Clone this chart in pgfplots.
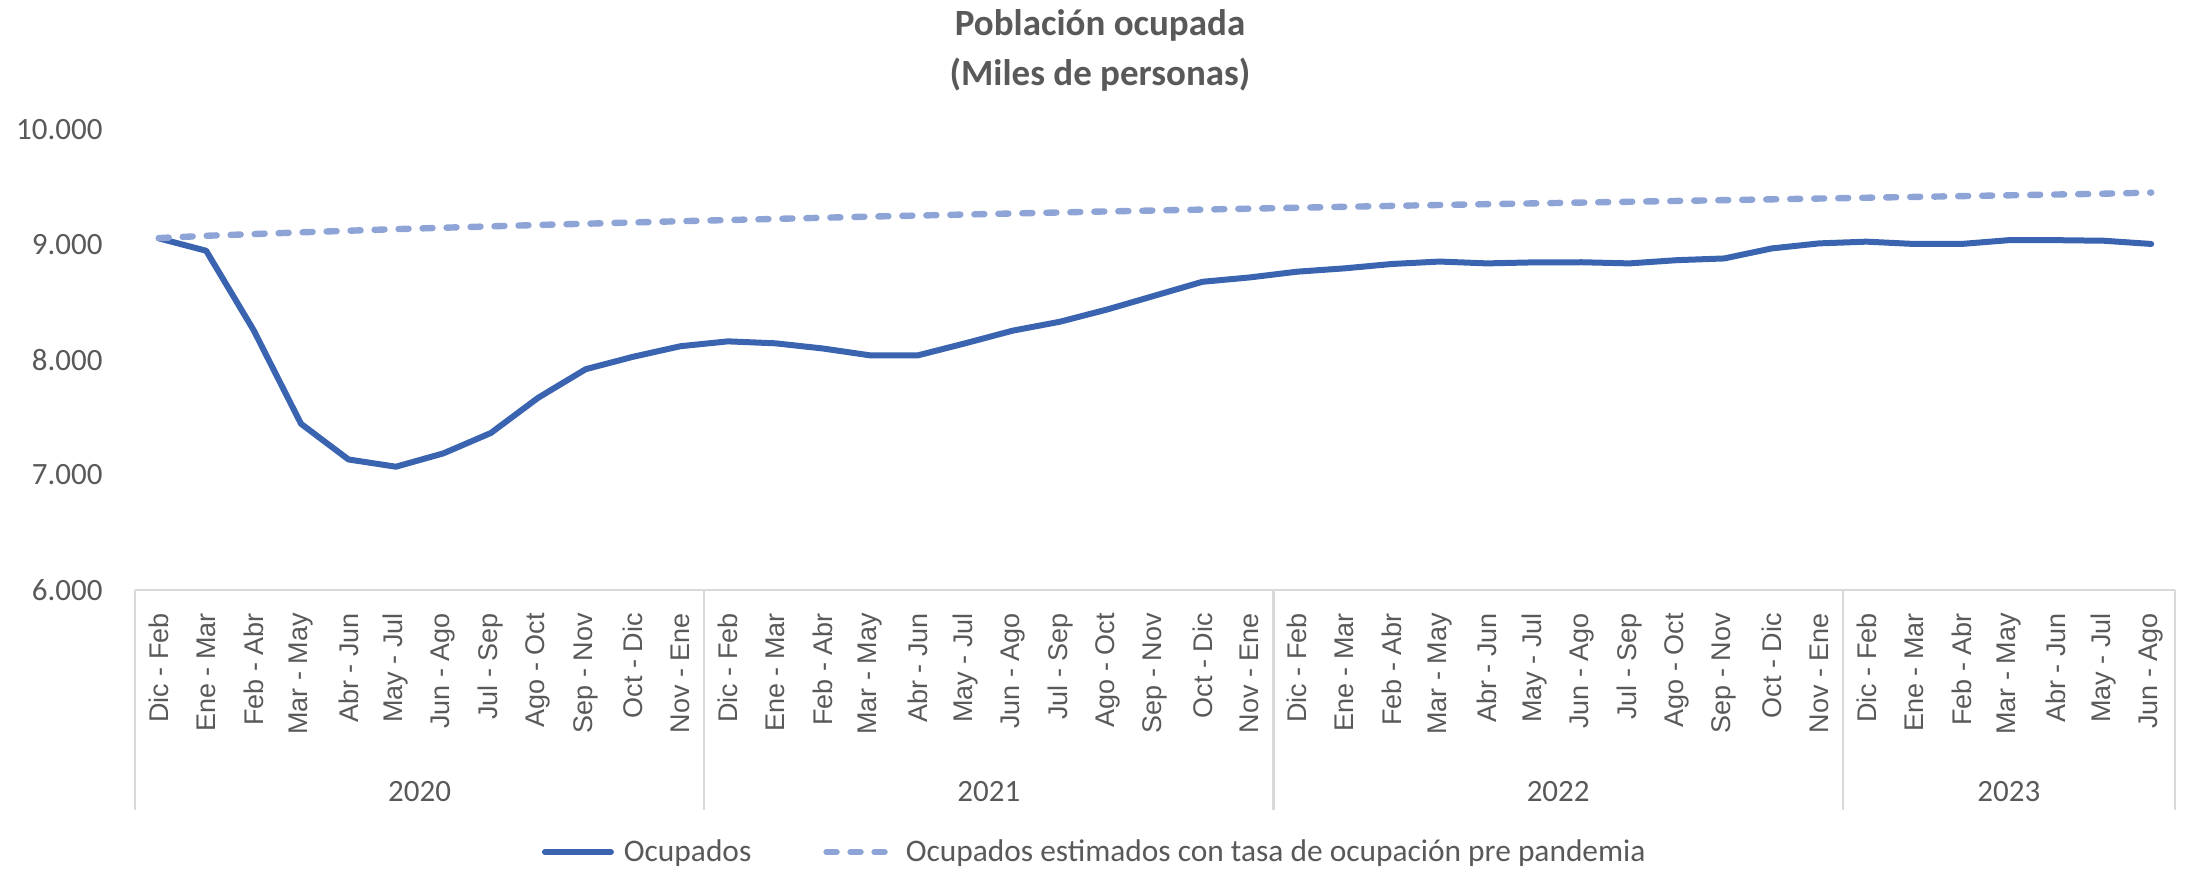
\documentclass[border=0pt]{standalone}
\usepackage{fontspec}
\setmainfont{Carlito}
\newfontfamily\arialf{Liberation Sans}
\usepackage{pgfplots}
\pgfplotsset{compat=1.18}
\definecolor{txtgray}{RGB}{89,89,89}
\definecolor{sepgray}{RGB}{217,217,217}
\definecolor{ocup}{RGB}{59,100,176}
\definecolor{estim}{RGB}{143,164,214}
\begin{document}
\begin{tikzpicture}
\useasboundingbox (0,0) rectangle (1095pt,436pt);
\node[text=txtgray, font=\bfseries\fontsize{18.5}{25}\selectfont, align=center] at (550pt,411pt) {Población ocupada\\(Miles de personas)};
\begin{axis}[
  at={(67.5pt,141pt)}, anchor=south west,
  scale only axis, width=1020pt, height=230pt,
  xmin=-0.5, xmax=42.5, ymin=6000, ymax=10000,
  clip=false,
  scaled y ticks=false,
  axis line style={draw=none},
  major tick length=0pt,
  xtick={0,...,42},
  xticklabels={Dic - Feb,Ene - Mar,Feb - Abr,Mar - May,Abr - Jun,May - Jul,Jun - Ago,Jul - Sep,Ago - Oct,Sep - Nov,Oct - Dic,Nov - Ene,
               Dic - Feb,Ene - Mar,Feb - Abr,Mar - May,Abr - Jun,May - Jul,Jun - Ago,Jul - Sep,Ago - Oct,Sep - Nov,Oct - Dic,Nov - Ene,
               Dic - Feb,Ene - Mar,Feb - Abr,Mar - May,Abr - Jun,May - Jul,Jun - Ago,Jul - Sep,Ago - Oct,Sep - Nov,Oct - Dic,Nov - Ene,
               Dic - Feb,Ene - Mar,Feb - Abr,Mar - May,Abr - Jun,May - Jul,Jun - Ago},
  ytick={6000,7000,8000,9000,10000},
  yticklabels={6.000,7.000,8.000,9.000,10.000},
  xticklabel style={rotate=90, anchor=east, inner sep=0pt, font=\arialf\fontsize{13.5}{16}\selectfont, text=txtgray},
  xticklabel shift=11.5pt,
  yticklabel style={anchor=east, inner sep=0pt, font=\fontsize{15.5}{18}\selectfont, text=txtgray},
  yticklabel shift=16pt,
  legend style={at={(0.471,-0.5696)}, anchor=center, draw=none, fill=none, legend columns=2,
    font=\fontsize{15.7}{18}\selectfont, text=txtgray,
    /tikz/every even column/.append style={column sep=34pt}},
  legend cell align=left,
  legend image code/.code={\draw[#1] (0pt,0pt) -- (33pt,0pt);},
]
\addplot[ocup, line width=3pt, line join=round, line cap=round] coordinates {
(0,9058) (1,8950) (2,8260) (3,7445) (4,7135) (5,7072) (6,7188) (7,7365) (8,7672) (9,7920) (10,8028) (11,8120)
(12,8162) (13,8145) (14,8100) (15,8040) (16,8040) (17,8145) (18,8255) (19,8333) (20,8440) (21,8560) (22,8680) (23,8718)
(24,8768) (25,8797) (26,8835) (27,8856) (28,8840) (29,8849) (30,8850) (31,8840) (32,8868) (33,8883) (34,8970) (35,9014)
(36,9029) (37,9009) (38,9009) (39,9042) (40,9042) (41,9037) (42,9009)};
\addlegendentry{\hspace{3pt}Ocupados}
\addplot[estim, line width=3.2pt, line cap=round, dash pattern=on 5pt off 7pt] coordinates {
(0,9060) (1,9080) (2,9095) (3,9110) (4,9124) (5,9138) (6,9150) (7,9162) (8,9174) (9,9185) (10,9196) (11,9207)
(12,9217) (13,9227) (14,9237) (15,9247) (16,9256) (17,9265) (18,9274) (19,9283) (20,9292) (21,9300) (22,9308) (23,9316)
(24,9324) (25,9332) (26,9340) (27,9348) (28,9355) (29,9362) (30,9369) (31,9376) (32,9383) (33,9390) (34,9397) (35,9404)
(36,9411) (37,9418) (38,9425) (39,9432) (40,9439) (41,9446) (42,9456)};
\addlegendentry{\hspace{3pt}Ocupados estimados con tasa de ocupación pre pandemia}
\draw[sepgray, line width=1.2pt] (axis cs:-0.5,6000) -- (axis cs:42.5,6000);
\pgfplotsinvokeforeach{-0.5,11.5,23.5,35.5,42.5}{
  \draw[sepgray, line width=1.2pt] (axis cs:#1,6000) -- ([yshift=-110pt]axis cs:#1,6000);
}
\node[text=txtgray, font=\fontsize{15.5}{18}\selectfont] at ([yshift=-101pt]axis cs:5.5,6000) {2020};
\node[text=txtgray, font=\fontsize{15.5}{18}\selectfont] at ([yshift=-101pt]axis cs:17.5,6000) {2021};
\node[text=txtgray, font=\fontsize{15.5}{18}\selectfont] at ([yshift=-101pt]axis cs:29.5,6000) {2022};
\node[text=txtgray, font=\fontsize{15.5}{18}\selectfont] at ([yshift=-101pt]axis cs:39,6000) {2023};
\end{axis}
\end{tikzpicture}
\end{document}
